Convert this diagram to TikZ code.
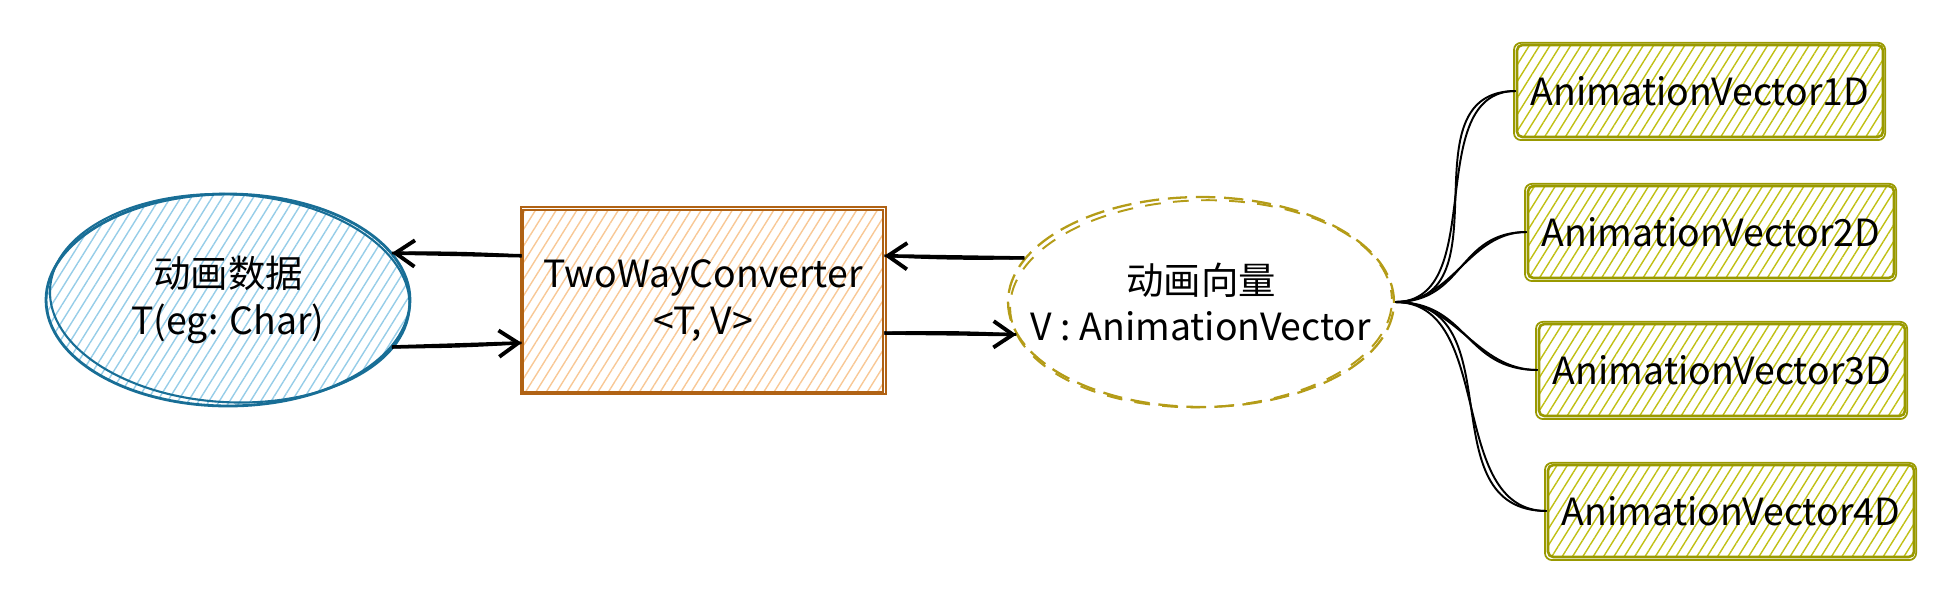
\documentclass[tikz,border=0pt]{standalone}
\usepackage{fontspec}
\setmainfont{Noto Sans CJK SC}
\usetikzlibrary{shapes.geometric,arrows.meta,patterns.meta}

\definecolor{dataline}{RGB}{24,110,150}
\definecolor{datafill}{RGB}{150,205,232}
\definecolor{convline}{RGB}{176,98,20}
\definecolor{convfill}{RGB}{248,200,150}
\definecolor{vecline}{RGB}{180,156,24}
\definecolor{leafline}{RGB}{153,153,0}
\definecolor{leaffill}{RGB}{192,192,20}

\tikzset{
  hatch/.style={pattern={Lines[angle=58,distance=5pt,line width=0.8pt]},pattern color=#1},
  datanode/.style={ellipse,draw=dataline,line width=1.6pt,hatch=datafill,
    minimum width=7.28cm,minimum height=4.24cm,align=center,inner sep=0pt},
  convnode/.style={rectangle,draw=convline,line width=1.6pt,hatch=convfill,
    minimum width=7.2cm,minimum height=3.64cm,align=center},
  vecnode/.style={ellipse,draw=vecline,line width=1.3pt,dash pattern=on 11pt off 5pt,
    minimum width=7.72cm,minimum height=4.2cm,align=center,inner sep=0pt},
  leafnode/.style={rectangle,rounded corners=3pt,draw=leafline,line width=1.5pt,hatch=leaffill,
    minimum width=7.32cm,minimum height=1.84cm},
  arr/.style={-{Straight Barb[length=11pt,width=15pt,line width=2.2pt]},line width=2pt},
  arrtwin/.style={line width=1.5pt},
  twig/.style={line width=1.1pt,out=0,in=180}
}

\begin{document}
\begin{tikzpicture}[x=0.02cm,y=-0.02cm,font=\fontsize{21.3}{26.7}\selectfont]
\useasboundingbox (0,0) rectangle (1956,603);
\node[datanode] (data) at (228,300) {动画数据\\T(eg: Char)};
\node[convnode] (conv) at (703,301) {TwoWayConverter\\<T, V>};
\node[vecnode] (vec) at (1201,302) {\makebox[0pt]{动画向量}\\\makebox[0pt]{V : AnimationVector}};
\node[leafnode] (leaf1) at (1700,91) {AnimationVector1D};
\node[leafnode] (leaf2) at (1711,232) {AnimationVector2D};
\node[leafnode] (leaf3) at (1722,370) {AnimationVector3D};
\node[leafnode] (leaf4) at (1731,511) {AnimationVector4D};
% second strokes
\draw[dataline,line width=1.2pt] ([xshift=1pt,yshift=1pt]data.center) ellipse [x radius=3.6cm,y radius=2.08cm,rotate=-3];
\draw[convline,line width=1pt] ([xshift=-0.5pt,yshift=1pt]conv.north west) rectangle ([xshift=1pt,yshift=-0.5pt]conv.south east);
\draw[vecline,line width=1.1pt,dash pattern=on 9pt off 7pt,dash phase=4pt] ([yshift=-1pt]vec.center) ellipse [x radius=3.82cm,y radius=2.07cm,rotate=1.5];
\foreach \i in {1,...,4}
  \draw[leafline,line width=1pt,rounded corners=4pt] ([xshift=-1pt,yshift=0.5pt]leaf\i.north west) rectangle ([xshift=0.5pt,yshift=-1pt]leaf\i.south east);
% arrows
\draw[arr] (conv.166) -- (data.16);
\draw[arrtwin] (conv.166) to[bend right=2] (data.16);
\draw[arr] (data.344) -- (conv.193);
\draw[arrtwin] (data.344) to[bend right=2] (conv.193);
\draw[arr] (vec.166) -- (conv.14);
\draw[arrtwin] (vec.166) to[bend left=2] (conv.14);
\draw[arr] (conv.350) -- (vec.190);
\draw[arrtwin] (conv.350) to[bend left=2] (vec.190);
% branches
\foreach \i in {1,...,4}{
  \draw[twig] (vec.east) to (leaf\i.west);
  \draw[twig,looseness=1.2] (vec.east) to (leaf\i.west);
}
\end{tikzpicture}
\end{document}
